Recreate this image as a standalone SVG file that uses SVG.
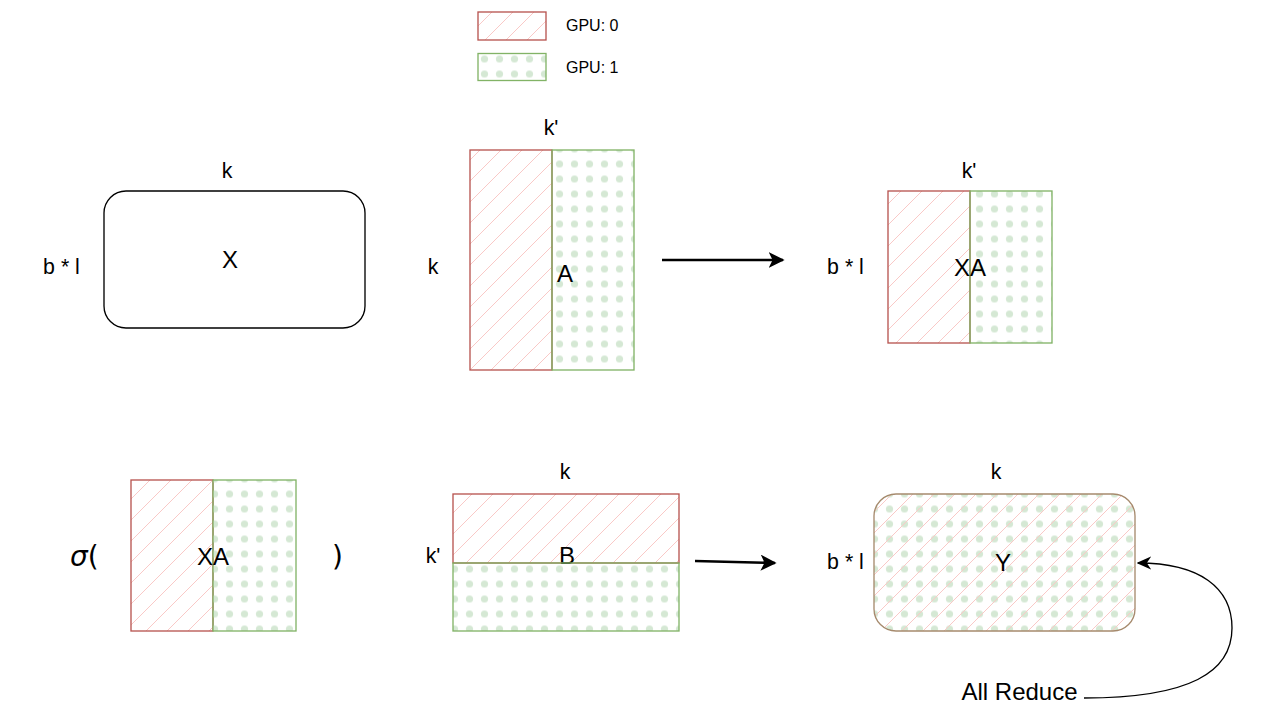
<svg xmlns="http://www.w3.org/2000/svg" width="1281" height="727" viewBox="0 0 1281 727">
<style>
.lbl{font-family:"Liberation Sans",Arial,sans-serif;font-size:21.33px;fill:#000;text-anchor:middle}
.big{font-family:"Liberation Sans",Arial,sans-serif;font-size:24px;fill:#000;text-anchor:middle}
.gpu{font-family:"Liberation Sans",Arial,sans-serif;font-size:16px;fill:#000}
.red{fill:url(#hatch);stroke:#b85450;stroke-width:1.33}
.green{fill:url(#dots);stroke:#82b366;stroke-width:1.33}
.conn{fill:none;stroke:#000}
</style>
<defs>
<pattern id="hatch" patternUnits="userSpaceOnUse" width="21" height="21">
<path d="M0 21L21 0M-2 2L2 -2M19 23L23 19" stroke="#f9c9c7" stroke-width="1"/>
</pattern>
<pattern id="dots" patternUnits="userSpaceOnUse" width="15" height="15" x="-3" y="6.5">
<circle cx="7.5" cy="7.5" r="3.6" fill="#d5e8d4"/>
</pattern>
<marker id="arrowBlock" viewBox="0 0 10 10" refX="9" refY="5" markerWidth="6" markerHeight="6" markerUnits="strokeWidth" orient="auto">
<path d="M0 0L10 5L0 10L2.5 5Z" fill="#000"/>
</marker>
<marker id="arrowThin" viewBox="0 0 10 10" refX="9" refY="5" markerWidth="11" markerHeight="11" markerUnits="strokeWidth" orient="auto">
<path d="M0 0.5L10 5L0 9.5L3 5Z" fill="#000"/>
</marker>
</defs>
<rect width="1281" height="727" fill="#fff"/>

<g id="legend">
<rect class="red" x="478" y="12" width="68" height="28"/>
<text class="gpu" x="566" y="31">GPU: 0</text>
<rect class="green" x="478" y="53.5" width="68" height="27"/>
<text class="gpu" x="566" y="73">GPU: 1</text>
</g>

<g id="nodeX">
<rect x="104" y="191" width="261" height="137" rx="22" fill="#fff" stroke="#000" stroke-width="1.33"/>
<text class="big" x="230" y="268">X</text>
<text class="lbl" x="227" y="178">k</text>
<text class="lbl" x="61.5" y="274">b * l</text>
</g>

<g id="nodeA">
<rect class="red" x="470" y="150" width="82" height="220"/>
<rect class="green" x="552" y="150" width="82" height="220"/>
<text class="big" x="565" y="282">A</text>
<text class="lbl" x="551" y="135">k'</text>
<text class="lbl" x="433" y="274">k</text>
</g>

<g id="nodeXA1">
<rect class="red" x="888" y="191" width="82" height="152"/>
<rect class="green" x="970" y="191" width="82" height="152"/>
<text class="big" x="970" y="276">XA</text>
<text class="lbl" x="969" y="178">k'</text>
<text class="lbl" x="845.5" y="274">b * l</text>
</g>

<g id="nodeXA2">
<text x="70" y="566" font-family="'DejaVu Sans','Liberation Sans',sans-serif" font-size="28px" fill="#000"><tspan font-style="italic">σ</tspan>(</text>
<rect class="red" x="131" y="480" width="82" height="151"/>
<rect class="green" x="213" y="480" width="83" height="151"/>
<text class="big" x="213" y="565">XA</text>
<text x="332" y="566" font-family="'DejaVu Sans','Liberation Sans',sans-serif" font-size="28px" fill="#000">)</text>
</g>

<g id="nodeB">
<rect class="red" x="453" y="494" width="226" height="69"/>
<text class="big" x="567" y="564">B</text>
<rect class="green" x="453" y="563" width="226" height="68"/>
<text class="lbl" x="565" y="479">k</text>
<text class="lbl" x="433" y="563">k'</text>
</g>

<g id="nodeY">
<rect x="874" y="494" width="261" height="137" rx="22" fill="url(#dots)"/>
<rect x="874" y="494" width="261" height="137" rx="22" fill="url(#hatch)" stroke="#a68a6d" stroke-width="1.33"/>
<text class="big" x="1003" y="571">Y</text>
<text class="lbl" x="996" y="479">k</text>
<text class="lbl" x="845.5" y="569">b * l</text>
</g>

<g id="allReduceLabel">
<text class="big" x="1019.5" y="700">All Reduce</text>
</g>

<g id="connectors">
<path class="conn" d="M662 260H783" stroke-width="2.67" marker-end="url(#arrowBlock)"/>
<path class="conn" d="M695 561L775 563" stroke-width="2.67" marker-end="url(#arrowBlock)"/>
<path class="conn" d="M1084 698C1190 698 1232 672 1232 628C1232 588 1200 563 1138 563" stroke-width="1.33" marker-end="url(#arrowThin)"/>
</g>
</svg>
